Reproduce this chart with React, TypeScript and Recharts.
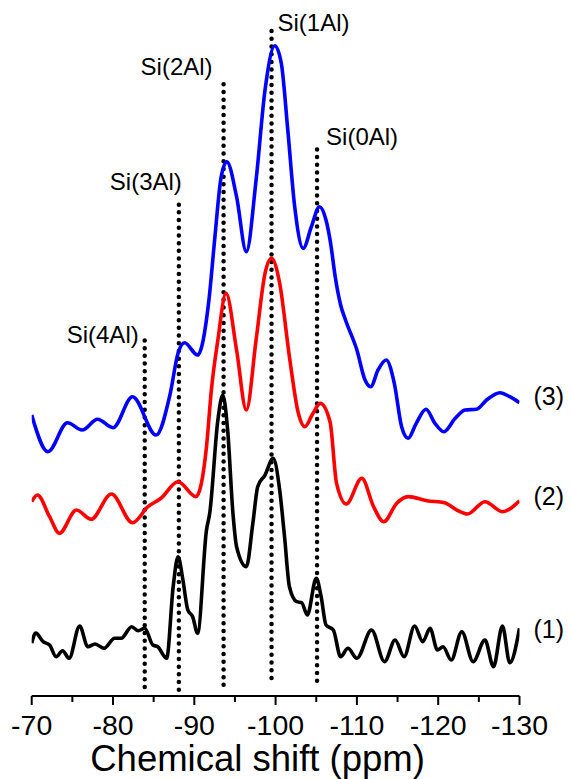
import React from 'react';
import { LineChart, Line, XAxis, YAxis, ReferenceLine, ReferenceDot } from 'recharts';

const FONT = '"Liberation Sans", Arial, sans-serif';

// (1) black spectrum: chemical shift (ppm) and intensity (a.u., stacked)
const ppm1 = [-70, -70.5, -71.4, -72.2, -73, -73.8, -74.6, -75.9, -76.9, -77.8, -78.9, -80.2, -81, -82.3, -83.1, -83.9, -84.9, -85.5, -86.6, -87.4, -88, -88.6, -89.2, -89.8, -90.4, -91.5, -91.9, -92.9, -93.5, -94.1, -94.75, -95.2, -96.4, -97.2, -97.8, -98.7, -99.7, -100.5, -101.1, -101.7, -102.6, -103.2, -103.9, -105, -105.6, -106.2, -107.1, -108, -108.9, -110, -111.8, -113.4, -114.7, -115.8, -117.1, -118.1, -119, -119.9, -120.6, -121.6, -122.9, -124.3, -125.75, -126.8, -127.9, -128.8, -130];
const int1 = [7.6, 9.05, 7.8, 7.33, 5.65, 6.51, 5.42, 10.06, 7.08, 7.47, 6.85, 8.29, 8.29, 9.96, 9.38, 9.73, 7.33, 7.08, 5.42, 15.7, 20.01, 16.67, 12.36, 11.39, 9.01, 23.85, 26.29, 39.66, 43.25, 38.22, 26.29, 21.45, 18.58, 24.81, 30.07, 31.75, 34.15, 29.6, 22.89, 15.7, 13.55, 13.41, 11.64, 16.91, 14.27, 10.2, 9.48, 5.65, 6.85, 5.42, 9.48, 4.93, 8.05, 5.65, 10.06, 7.8, 9.73, 6.61, 7.08, 5.17, 9.24, 4.93, 8.05, 4.21, 10.06, 4.78, 9.73];

// (2) red spectrum
const ppm2 = [-70, -70.7, -72.2, -73.4, -75.5, -77.3, -79.8, -82.4, -84.3, -85.9, -88, -90.2, -91.5, -92.1, -92.9, -93.9, -95.2, -96.4, -97.6, -98.7, -99.5, -100.5, -101.7, -102.8, -103.6, -104.6, -105.5, -106.7, -107.5, -108.7, -110.6, -112.05, -113.3, -114.9, -116.3, -118.6, -120.8, -122.3, -123.6, -125.75, -127.9, -130];
const int2 = [27.92, 28.88, 25.76, 23.38, 26.72, 25.39, 29.02, 24.9, 27.2, 28.41, 30.79, 28.64, 35.82, 43.97, 51.15, 57.86, 49.71, 41.09, 51.15, 60.73, 62.89, 59.3, 48.75, 40.62, 38.69, 40.62, 42.05, 39.37, 30.56, 27.59, 31.28, 27.2, 25.04, 27.69, 28.64, 28.06, 27.77, 26.72, 26.15, 27.92, 26.48, 28.06];

// (3) blue spectrum
const ppm3 = [-70, -72, -74.4, -76.2, -78.1, -80, -82.4, -85.3, -87, -88, -88.8, -90.4, -91.8, -92.5, -93.3, -94, -95.2, -96.4, -97.6, -98.7, -99.9, -100.7, -101.5, -102.35, -103.4, -104.4, -105.4, -106.2, -106.8, -107.3, -108, -108.6, -110, -111, -111.7, -112.6, -113.6, -114.6, -115.5, -116.3, -117.3, -118.5, -119.6, -120.7, -122.1, -123.3, -124.7, -125.95, -127.6, -128.8, -130];
const int3 = [40.37, 35.1, 39.27, 38.22, 39.76, 38.55, 43, 37.5, 43.25, 49.24, 50.76, 48.99, 56.9, 65.52, 74.57, 76.77, 71.74, 63.84, 74.14, 87.07, 93.43, 90.91, 81.32, 70.3, 64.32, 67.43, 70.3, 68.39, 64.8, 60.49, 56.18, 54.02, 49.71, 45.4, 44.44, 46.84, 48.28, 44.93, 38.69, 37.03, 39.18, 41.19, 39.18, 37.97, 39.9, 41.09, 41.19, 42.53, 43.58, 43, 42.14];

// Si(nAl) assignments: positions and the extent of the dotted guide lines
const siLabels = ['Si(4Al)', 'Si(3Al)', 'Si(2Al)', 'Si(1Al)', 'Si(0Al)'];
const siShift = [-83.9, -88.1, -93.6, -99.5, -105.1];
const siTop = [51.4, 71.4, 88.8, 95.8, 78.7];
const siBottom = [1.3, 0.9, 1.6, 2.6, 2.2];
// label placement relative to the top of each guide line
const siLabelPos = [
  { dx: -6, dy: 5, anchor: 'end' },
  { dx: 3, dy: -9, anchor: 'end' },
  { dx: -11, dy: -3, anchor: 'end' },
  { dx: 6, dy: 2, anchor: 'start' },
  { dx: 9, dy: -3, anchor: 'start' },
];

const sampleNames = ['(1)', '(2)', '(3)'];
const sampleColors = ['#000000', '#ff0000', '#0000ff'];
const nameDy = [10, 4, 2];

const majorTicks = [-70, -80, -90, -100, -110, -120, -130];
const minorTicks = [-75, -85, -95, -105, -115, -125];

const series = [
  ppm1.map((p, i) => ({ ppm: p, v: int1[i] })),
  ppm2.map((p, i) => ({ ppm: p, v: int2[i] })),
  ppm3.map((p, i) => ({ ppm: p, v: int3[i] })),
];

const AxisTick = ({ x, y, payload }: any) => {
  const major = majorTicks.includes(payload.value);
  return (
    <g>
      <line x1={x} x2={x} y1={y} y2={y + (major ? 9 : 6)} stroke="#000" strokeWidth={2} />
      {major && (
        <text x={x} y={y + 39} textAnchor="middle" fontFamily={FONT} fontSize={28.5} fill="#000">
          {payload.value}
        </text>
      )}
    </g>
  );
};

export default function App() {
  return (
    <div style={{ width: 571, height: 779, background: '#fff' }}>
      <style>{'body{margin:0}'}</style>
      <LineChart width={571} height={779} data={series[0]} margin={{ top: 0, right: 51.5, bottom: 0, left: 31.7 }}>
        <XAxis
          type="number"
          dataKey="ppm"
          domain={[-130, -70]}
          reversed
          ticks={[...majorTicks, ...minorTicks]}
          interval={0}
          height={83}
          tickSize={0}
          tickMargin={0}
          tickLine={false}
          axisLine={{ stroke: '#000', strokeWidth: 2 }}
          tick={<AxisTick />}
          allowDataOverflow
          label={{
            content: ({ viewBox }: any) => (
              <text
                x={viewBox.x + viewBox.width / 2 - 18}
                y={viewBox.y + 75}
                textAnchor="middle"
                fontFamily={FONT}
                fontSize={36.5}
                fill="#000"
              >
                Chemical shift (ppm)
              </text>
            ),
          }}
        />
        <YAxis hide type="number" domain={[0, 100]} />

        {siShift.map((s, i) => (
          <ReferenceLine
            key={`g-${i}`}
            segment={[{ x: s, y: siBottom[i] }, { x: s, y: siTop[i] }]}
            stroke="#000"
            strokeWidth={4.5}
            strokeDasharray="0 7.7"
            strokeLinecap="round"
          />
        ))}

        {series.map((d, i) => (
          <Line
            key={`s-${i}`}
            data={d}
            dataKey="v"
            type="monotone"
            stroke={sampleColors[i]}
            strokeWidth={3.6}
            dot={false}
            activeDot={false}
            isAnimationActive={false}
          />
        ))}

        {siShift.map((s, i) => (
          <ReferenceDot
            key={`l-${i}`}
            x={s}
            y={siTop[i]}
            r={0}
            stroke="none"
            fill="none"
            label={{
              content: ({ viewBox }: any) => (
                <text
                  x={viewBox.x + siLabelPos[i].dx}
                  y={viewBox.y + siLabelPos[i].dy}
                  textAnchor={siLabelPos[i].anchor}
                  fontFamily={FONT}
                  fontSize={24}
                  fill="#000"
                >
                  {siLabels[i]}
                </text>
              ),
            }}
          />
        ))}

        {series.map((d, i) => (
          <ReferenceDot
            key={`n-${i}`}
            x={d[d.length - 1].ppm}
            y={d[d.length - 1].v}
            r={0}
            stroke="none"
            fill="none"
            label={{
              content: ({ viewBox }: any) => (
                <text
                  x={viewBox.x + 14}
                  y={viewBox.y + nameDy[i]}
                  fontFamily={FONT}
                  fontSize={25}
                  fill="#000"
                >
                  {sampleNames[i]}
                </text>
              ),
            }}
          />
        ))}
      </LineChart>
    </div>
  );
}
